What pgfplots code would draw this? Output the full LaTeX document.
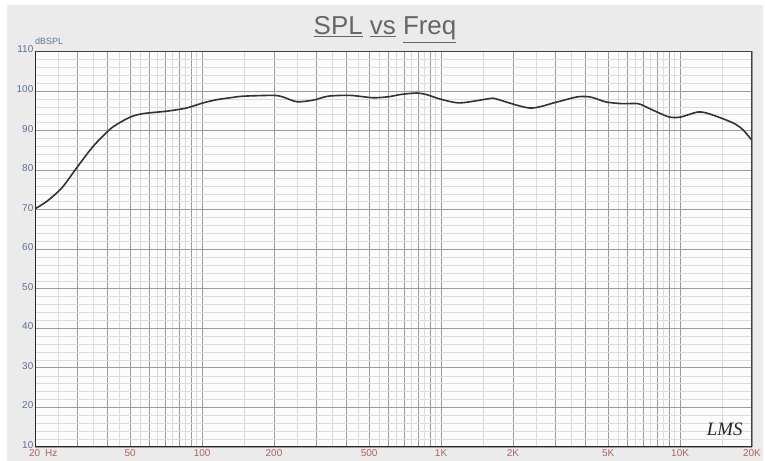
\documentclass[border=0pt]{standalone}
\usepackage{pgfplots}
\pgfplotsset{compat=1.18}
\usepackage{fontspec}
\setmainfont{Liberation Sans}
\newfontfamily\logofont{Liberation Serif}
\definecolor{panel}{HTML}{EBEBEB}
\definecolor{plotbg}{HTML}{FCFCFC}
\definecolor{majgrid}{HTML}{9C9C9C}
\definecolor{mingrid}{HTML}{DBDBDB}
\definecolor{ylab}{HTML}{5F7094}
\definecolor{xlab}{HTML}{B0605F}
\definecolor{titlec}{HTML}{666666}
\definecolor{curve}{HTML}{333333}
\begin{document}
\begin{tikzpicture}[x=1bp,y=1bp]
\useasboundingbox (0,0) rectangle (765,461);
\fill[white] (0,0) rectangle (765,461);
\fill[panel] (7,0) rectangle (763,456);
\node[anchor=base,text=titlec,font=\fontsize{26}{30}\selectfont] at (385,426) {\underline{SPL} \underline{vs} \underline{Freq}};
\node[anchor=west,text=ylab,font=\fontsize{9}{10}\selectfont,inner sep=0pt] at (35,419.5) {dBSPL};
\begin{axis}[
  at={(35bp,14bp)}, anchor=south west,
  scale only axis, width=717bp, height=395.5bp,
  xmode=log, xmin=20, xmax=20000, ymin=10, ymax=110,
  log basis x=10,
  axis background/.style={fill=plotbg},
  axis line style={draw=none},
  major tick length=0pt, minor tick length=0pt,
  xtick={20,30,40,50,60,70,80,90,100,200,300,400,500,600,700,800,900,1000,2000,3000,4000,5000,6000,7000,8000,9000,10000,20000},
  xticklabels={{\makebox[0pt][l]{\hspace{-6bp}20\hspace{5bp}Hz}},,,50,,,,,100,200,,,500,,,,,1K,2K,,,5K,,,,,10K,20K},
  minor xtick={25,35,45,55,65,75,85,95,150,250,350,450,550,650,750,850,950,1500,2500,3500,4500,5500,6500,7500,8500,9500,15000},
  ytick={10,20,30,40,50,60,70,80,90,100,110},
  minor ytick={12,14,16,18,22,24,26,28,32,34,36,38,42,44,46,48,52,54,56,58,62,64,66,68,72,74,76,78,82,84,86,88,92,94,96,98,102,104,106,108},
  xmajorgrids, ymajorgrids, xminorgrids, yminorgrids,
  major grid style={draw=majgrid, line width=0.8bp},
  minor grid style={draw=mingrid, line width=0.6bp},
  /pgf/number format/assume math mode=true,
  yticklabel style={text=ylab, font=\fontsize{10}{12}\selectfont, inner sep=1.5bp, yshift=2bp},
  xticklabel style={text=xlab, font=\fontsize{10}{12}\selectfont, inner sep=2bp},
  clip=true,
]
\addplot[curve, line width=1.6bp, smooth, tension=0.45] coordinates {
(20,70.2) (22.4,72.1) (25.9,75.5) (29.9,80.6) (35,86) (41.9,90.7) (50,93.4)
(56.8,94.3) (71,94.9) (86,95.7) (101,97) (115,97.8) (131,98.3) (149,98.7)
(199,98.9) (218,98.5) (249,97.3) (292,97.7) (337,98.7) (417,98.9) (520,98.3)
(610,98.6) (672,99.1) (790,99.5) (870,99.1) (988,98) (1198,97) (1600,98.1)
(1700,98) (2354,95.7) (3040,97.2) (3694,98.5) (4070,98.6) (4336,98.3)
(4930,97.2) (5780,96.8) (6680,96.8) (7490,95.5) (8930,93.5) (10000,93.4)
(11880,94.7) (13300,94.2) (16580,92) (18260,90.3) (20000,87.5)
};
\draw[draw=black!75, line width=1.6bp] (rel axis cs:0,1) -- (rel axis cs:1,1) -- (rel axis cs:1,0);
\draw[draw=black!85, line width=2.6bp] (rel axis cs:0,1) -- (rel axis cs:0,0) -- (rel axis cs:1,0);
\node[font=\logofont\fontsize{19}{20}\selectfont\itshape, text=black!85] at (rel axis cs:0.962,0.045) {LMS};
\end{axis}
\end{tikzpicture}
\end{document}
